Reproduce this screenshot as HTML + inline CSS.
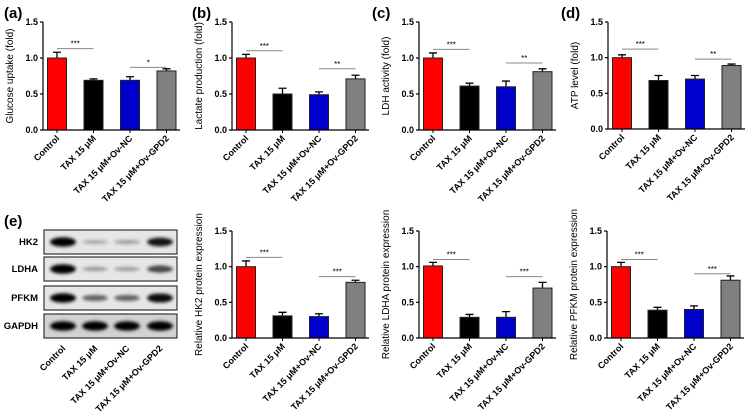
<!DOCTYPE html>
<html><head><meta charset="utf-8"><style>
html,body{margin:0;padding:0;background:#fff}
svg{display:block;font-family:"Liberation Sans",Arial,sans-serif}
</style></head><body>
<svg id="fig" width="746" height="413" viewBox="0 0 746 413">
<defs><filter id="blur" x="-30%" y="-100%" width="160%" height="300%"><feGaussianBlur stdDeviation="1.6"/></filter></defs>
</svg>
<script>
const categories = ["Control","TAX 15 \u03bcM","TAX 15 \u03bcM+Ov-NC","TAX 15 \u03bcM+Ov-GPD2"];
const colors = ["#ff0000","#000000","#0000cc","#808080"];
const yTicks = [0,0.5,1.0,1.5];
const yTickLabels = ["0.0","0.5","1.0","1.5"];
const glucoseMeans = [1.0,0.69,0.69,0.82];
const glucoseErr = [0.08,0.02,0.05,0.03];
const lactateMeans = [1.0,0.50,0.49,0.71];
const lactateErr = [0.05,0.08,0.04,0.05];
const ldhMeans = [1.0,0.61,0.60,0.81];
const ldhErr = [0.07,0.04,0.08,0.04];
const atpMeans = [1.0,0.68,0.70,0.89];
const atpErr = [0.04,0.07,0.05,0.02];
const hk2Means = [1.0,0.31,0.30,0.78];
const hk2Err = [0.08,0.05,0.04,0.03];
const ldhaMeans = [1.01,0.29,0.29,0.70];
const ldhaErr = [0.05,0.04,0.08,0.08];
const pfkmMeans = [1.0,0.39,0.40,0.81];
const pfkmErr = [0.06,0.04,0.05,0.06];
const sigLabels = [["***","*"],["***","**"],["***","**"],["***","**"],["***","***"],["***","***"],["***","***"]];
const sigHeights = [[1.13,0.87],[1.10,0.85],[1.12,0.93],[1.12,0.98],[1.13,0.86],[1.10,0.86],[1.10,0.90]];
const blotProteins = ["HK2","LDHA","PFKM","GAPDH"];
const hk2Band = [1.0,0.15,0.2,0.9];
const ldhaBand = [1.0,0.22,0.2,0.65];
const pfkmBand = [1.0,0.5,0.5,0.95];
const gapdhBand = [1.0,1.0,1.0,1.0];

const NS="http://www.w3.org/2000/svg";
const svg=document.getElementById('fig');
function mk(tag,attrs,parent){const e=document.createElementNS(NS,tag);for(const k in attrs)e.setAttribute(k,attrs[k]);(parent||svg).appendChild(e);return e;}

const panels=[
 {letter:"(a)",lx:4,ly:18,ax:43,top:22,base:130,title:"Glucose uptake (fold)",m:glucoseMeans,e:glucoseErr,name:"glucose-uptake"},
 {letter:"(b)",lx:192,ly:18,ax:232,top:22,base:130,title:"Lactate production (fold)",m:lactateMeans,e:lactateErr,name:"lactate-production"},
 {letter:"(c)",lx:372,ly:18,ax:419,top:22,base:130,title:"LDH activity (fold)",m:ldhMeans,e:ldhErr,name:"ldh-activity"},
 {letter:"(d)",lx:561,ly:18,ax:608,top:22,base:129,title:"ATP level (fold)",m:atpMeans,e:atpErr,name:"atp-level"},
 {letter:null,ax:232,top:231,base:338,title:"Relative HK2 protein expression",m:hk2Means,e:hk2Err,name:"hk2-expression"},
 {letter:null,ax:419,top:231,base:338,title:"Relative LDHA protein expression",m:ldhaMeans,e:ldhaErr,name:"ldha-expression"},
 {letter:null,ax:607,top:231,base:338,title:"Relative PFKM protein expression",m:pfkmMeans,e:pfkmErr,name:"pfkm-expression"}
];

panels.forEach((p,pi)=>{
 const g=mk('g',{});
 
 
 const y=v=>p.base-(v/1.5)*(p.base-p.top);
 const x=i=>p.ax+14+i*36.5;
 if(p.letter){const t=mk('text',{x:p.lx,y:p.ly,'font-size':15,'font-weight':'bold'},g);t.textContent=p.letter;
  }
 p.m.forEach((v,i)=>{
  const cx=x(i);
  const eb=mk('path',{d:`M${cx} ${y(v)}V${y(v+p.e[i])}M${cx-4} ${y(v+p.e[i])}H${cx+4}`,stroke:'#000','stroke-width':1.3,fill:'none'},g);
  
  const r=mk('rect',{x:cx-9.5,y:y(v),width:19,height:p.base-y(v),fill:colors[i],stroke:'#222','stroke-width':1},g);
  
  const lb=mk('text',{x:cx+3,y:p.base+9,'font-size':9,'font-weight':'bold','text-anchor':'end',transform:`rotate(-45 ${cx+3} ${p.base+9})`},g);
  lb.textContent=categories[i];
  
 });
 const ya=mk('path',{d:`M${p.ax} ${p.top}V${p.base}H${p.ax+137}`,stroke:'#000','stroke-width':1.2,fill:'none'},g);
 
 yTicks.forEach((t,i)=>{
  mk('line',{x1:p.ax-3,x2:p.ax,y1:y(t),y2:y(t),stroke:'#000','stroke-width':1.2},g);
  const tl=mk('text',{x:p.ax-5,y:y(t)+3,'font-size':9,'font-weight':'bold','text-anchor':'end'},g);
  tl.textContent=yTickLabels[i];
  
 });
 p.m.forEach((v,i)=>mk('line',{x1:x(i),x2:x(i),y1:p.base,y2:p.base+3,stroke:'#000','stroke-width':1},g));
 const ty=(p.top+p.base)/2;
 const tt=mk('text',{x:p.ax-30,y:ty,'font-size':10,'text-anchor':'middle',transform:`rotate(-90 ${p.ax-30} ${ty})`},g);
 tt.textContent=p.title;
 
 [[0,1],[2,3]].forEach((pair,k)=>{
  const sy=y(sigHeights[pi][k]);
  const sl=mk('line',{x1:x(pair[0]),x2:x(pair[1]),y1:sy,y2:sy,stroke:'#888','stroke-width':1},g);
  
  const st=mk('text',{x:(x(pair[0])+x(pair[1]))/2,y:sy-2,'font-size':8,'text-anchor':'middle'},g);
  st.textContent=sigLabels[pi][k];
  
 });
});

const eT=mk('text',{x:4,y:226,'font-size':15,'font-weight':'bold'});
eT.textContent="(e)";


const bands=[hk2Band,ldhaBand,pfkmBand,gapdhBand];
const rowsY=[230,257,286,314];
const laneX=[63,95,127,160];
bands.forEach((b,r)=>{
 const g=mk('g',{});
 
 
 mk('rect',{x:44,y:rowsY[r],width:133,height:24,fill:r==3?'#d2d2d2':'#e6e6e6',stroke:'#333','stroke-width':1.2},g);
 b.forEach((v,i)=>{
  const e=mk('ellipse',{cx:laneX[i],cy:rowsY[r]+12,rx:13,ry:1.5+3.2*v,fill:'#000','fill-opacity':0.15+0.85*v,filter:'url(#blur)'},g);
  
 });
 const lt=mk('text',{x:38,y:rowsY[r]+15,'font-size':9.5,'font-weight':'bold','text-anchor':'end'},g);
 lt.textContent=blotProteins[r];
 
});
categories.forEach((c,i)=>{
 const cx=laneX[i];
 const lb=mk('text',{x:cx+3,y:349,'font-size':9,'font-weight':'bold','text-anchor':'end',transform:`rotate(-45 ${cx+3} 349)`});
 lb.textContent=c;
 
 
});
</script>
</body></html>
